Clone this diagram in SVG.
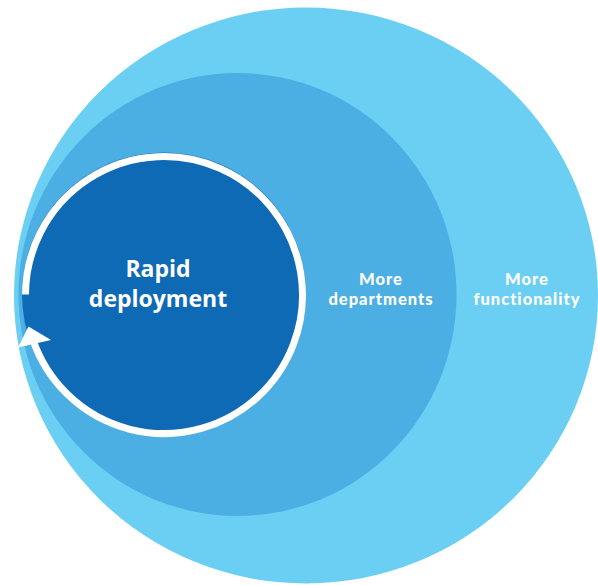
<svg xmlns="http://www.w3.org/2000/svg" width="598" height="585" viewBox="0 0 598 585">
  <style>
    .lbl { font-weight: 700; fill: #ffffff; text-anchor: middle; }
    .big { font-family: "Open Sans", "Liberation Sans", sans-serif; font-size: 23px; }
    .small { font-family: Lato, "Liberation Sans", sans-serif; font-size: 16.5px; font-weight: 900; letter-spacing: 1px; }
  </style>
  <rect x="0" y="0" width="598" height="585" fill="#ffffff"/>
  <g id="more-functionality">
    <ellipse cx="306" cy="295.5" rx="292" ry="288" fill="#6BCFF4"/>
    <text class="lbl small" x="527" y="285">More</text>
    <text class="lbl small" x="527" y="305">functionality</text>
  </g>
  <g id="more-departments">
    <ellipse cx="237.5" cy="294.5" rx="219" ry="221.5" fill="#4BAFE3"/>
    <text class="lbl small" x="381" y="285">More</text>
    <text class="lbl small" x="381" y="305">departments</text>
  </g>
  <g id="rapid-deployment">
    <circle cx="164" cy="294.5" r="142" fill="#0F6AB5"/>
    <text class="lbl big" x="158" y="277">Rapid</text>
    <text class="lbl big" x="158" y="307">deployment</text>
  </g>
  <g id="connectors">
    <path d="M 25.5 294.5 A 138.5 138.5 0 1 1 33 340" fill="none" stroke="#ffffff" stroke-width="7"/>
    <polygon points="28.5,326.5 51,340 18,347.5" fill="#ffffff"/>
  </g>
</svg>
